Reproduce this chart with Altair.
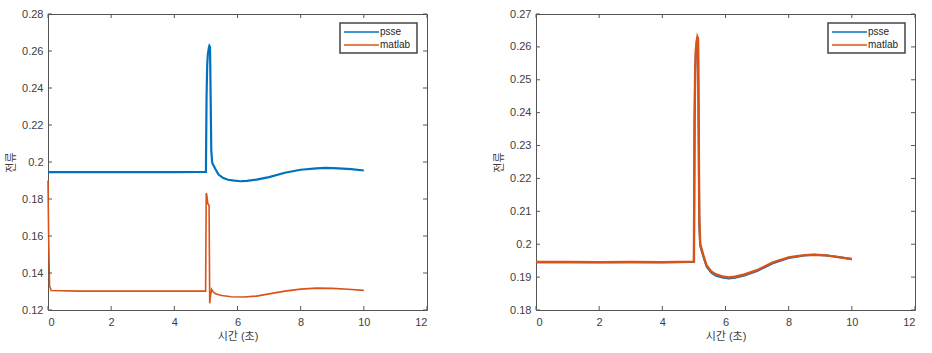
import altair as alt
import pandas as pd

BLUE = "#0072BD"
ORANGE = "#D95319"
FONT = "Liberation Sans, Noto Sans CJK KR"

series_names = ["psse", "matlab"]
series_colors = [BLUE, ORANGE]

x_ticks = [0, 2, 4, 6, 8, 10, 12]
left_y_ticks = [0.12, 0.14, 0.16, 0.18, 0.20, 0.22, 0.24, 0.26, 0.28]
right_y_ticks = [0.18, 0.19, 0.20, 0.21, 0.22, 0.23, 0.24, 0.25, 0.26, 0.27]

# psse series (same in both panels)
psse_t = [0, 1, 2, 3, 4, 5.0, 5.02, 5.04, 5.06, 5.09, 5.11, 5.13, 5.15, 5.17, 5.2,
          5.3, 5.4, 5.55, 5.7, 5.9, 6.1, 6.3, 6.6, 7.0, 7.5, 8.0, 8.5, 8.8, 9.2, 9.6, 10.0]
psse_v = [0.1945, 0.1945, 0.1945, 0.1945, 0.1945, 0.1946, 0.235, 0.252, 0.258, 0.2615,
          0.2628, 0.2622, 0.235, 0.206, 0.1995, 0.1962, 0.1932, 0.1913, 0.1904, 0.1899,
          0.1896, 0.1898, 0.1905, 0.1918, 0.1942, 0.1958, 0.1966, 0.1968, 0.1966, 0.1961, 0.1954]

# matlab series, left panel
mat_left_t = [0, 0.02, 0.05, 0.1, 1, 2, 3, 4, 4.99, 5.01, 5.03, 5.06, 5.08, 5.1, 5.12,
              5.14, 5.18, 5.22, 5.3, 5.5, 5.8, 6.2, 6.6, 7.0, 7.5, 8.0, 8.5, 9.0, 9.5, 10.0]
mat_left_v = [0.19, 0.16, 0.133, 0.1305, 0.1302, 0.1302, 0.1302, 0.1302, 0.1302, 0.1832,
              0.182, 0.1775, 0.177, 0.1765, 0.1236, 0.127, 0.1312, 0.1300, 0.1288, 0.1278,
              0.1272, 0.1270, 0.1275, 0.1287, 0.1302, 0.1313, 0.1318, 0.1317, 0.1312, 0.1306]

# matlab series, right panel
mat_right_t = [0, 1, 2, 3, 4, 5.0, 5.02, 5.04, 5.06, 5.09, 5.11, 5.13, 5.15, 5.17, 5.2,
               5.3, 5.4, 5.55, 5.7, 5.9, 6.1, 6.3, 6.6, 7.0, 7.5, 8.0, 8.5, 8.8, 9.2, 9.6, 10.0]
mat_right_v = [0.1946, 0.1946, 0.1945, 0.1946, 0.1945, 0.1947, 0.236, 0.253, 0.259, 0.2618,
               0.2630, 0.2625, 0.238, 0.208, 0.2000, 0.1966, 0.1936, 0.1917, 0.1908, 0.1902,
               0.1899, 0.1901, 0.1908, 0.1921, 0.1945, 0.1960, 0.1967, 0.1968, 0.1966, 0.1960, 0.1955]

W, H = 379, 296
TICK = 4
BOX = "#555555"

# legend box geometry (pixels inside plot area)
LX0, LX1, LY0, LY1 = 292, 369, 9, 39
ROW_Y = [18, 31]
SYM_X0, SYM_X1 = 296, 331


def panel(mat_t, mat_v, ydom, yticks, w_psse, w_mat):
    df_p = pd.DataFrame({"t": psse_t, "v": psse_v, "series": series_names[0]})
    df_m = pd.DataFrame({"t": mat_t, "v": mat_v, "series": series_names[1]})
    xenc = alt.X(
        "t:Q",
        scale=alt.Scale(domain=[0, 12], nice=False),
        axis=alt.Axis(values=x_ticks, title="시간 (초)", labelPadding=6, titlePadding=3,
                      labelOverlap=False),
    )
    yenc = alt.Y(
        "v:Q",
        scale=alt.Scale(domain=ydom, nice=False, zero=False),
        axis=alt.Axis(values=yticks, title="전류", labelPadding=5, titlePadding=5,
                      labelOverlap=False, labelFlush=False,
                      labelExpr="format(datum.value, '.2~f')"),
    )
    l_p = alt.Chart(df_p).mark_line(strokeWidth=w_psse, color=series_colors[0]).encode(x=xenc, y=yenc)
    l_m = alt.Chart(df_m).mark_line(strokeWidth=w_mat, color=series_colors[1]).encode(x=xenc, y=yenc)

    xt = pd.DataFrame({"t": x_ticks})
    yt = pd.DataFrame({"v": yticks})
    xtop = alt.Chart(xt).mark_rule(color=BOX, strokeWidth=1).encode(
        x=xenc, y=alt.value(0), y2=alt.value(TICK))
    xbot = alt.Chart(xt).mark_rule(color=BOX, strokeWidth=1).encode(
        x=xenc, y=alt.value(H), y2=alt.value(H - TICK))
    yl = alt.Chart(yt).mark_rule(color=BOX, strokeWidth=1).encode(
        y=yenc, x=alt.value(0), x2=alt.value(TICK))
    yr = alt.Chart(yt).mark_rule(color=BOX, strokeWidth=1).encode(
        y=yenc, x=alt.value(W - TICK), x2=alt.value(W))

    # manual legend
    leg_df = pd.DataFrame({"series": ["legend"]})
    box = alt.Chart(leg_df).mark_rect(fill="white", stroke="#444444", strokeWidth=1.5).encode(
        x=alt.value(LX0), x2=alt.value(LX1), y=alt.value(LY0), y2=alt.value(LY1))
    leg_layers = [box]
    for i, (name, col) in enumerate(zip(series_names, series_colors)):
        d = pd.DataFrame({"series": [name]})
        leg_layers.append(alt.Chart(d).mark_rule(color=col, strokeWidth=1.5).encode(
            x=alt.value(SYM_X0), x2=alt.value(SYM_X1), y=alt.value(ROW_Y[i])))
        leg_layers.append(alt.Chart(d).mark_text(
            align="left", baseline="middle", font=FONT, fontSize=10, color="#262626", dx=1).encode(
            x=alt.value(SYM_X1), y=alt.value(ROW_Y[i]), text="series:N"))
    return alt.layer(l_p, l_m, xtop, xbot, yl, yr, *leg_layers).properties(width=W, height=H)


left = panel(mat_left_t, mat_left_v, [0.12, 0.28], left_y_ticks, 2.2, 1.6)
right = panel(mat_right_t, mat_right_v, [0.18, 0.27], right_y_ticks, 2.0, 2.4)

chart = (
    alt.hconcat(left, right, spacing=65)
    .properties(padding={"left": 5, "top": 7, "right": 5, "bottom": 5})
    .configure_view(stroke=BOX, strokeWidth=1)
    .configure_axis(
        labelFont=FONT, labelFontSize=11, labelColor="#404040",
        titleFont=FONT, titleFontSize=11, titleColor="#404040", titleFontWeight="normal",
        ticks=False, tickSize=0, domain=False, grid=False, labelOverlap=False,
    )
)

chart.save("out.html", embed_options={"renderer": "svg", "actions": False})
